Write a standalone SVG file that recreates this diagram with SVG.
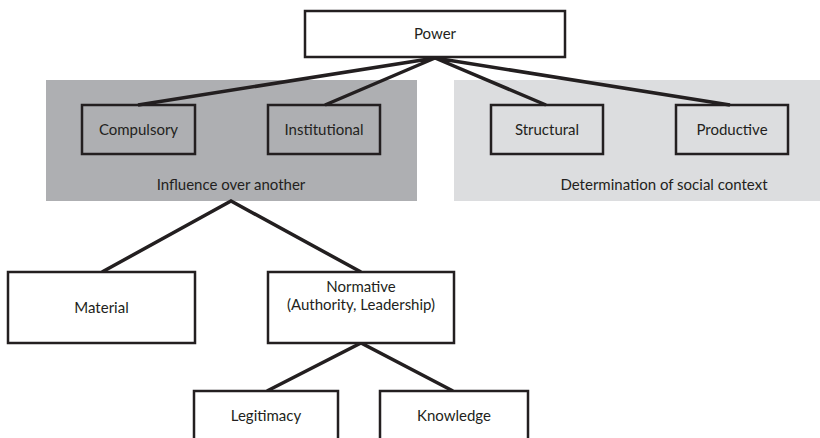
<svg xmlns="http://www.w3.org/2000/svg" width="820" height="438" viewBox="0 0 820 438">
<style>
.box{fill:#fff;stroke:#231f20;stroke-width:2.5}
.gbox{fill:none;stroke:#231f20;stroke-width:2.5}
.t{font-family:Lato,"Open Sans","Liberation Sans",sans-serif;font-size:15px;fill:#231f20;text-anchor:middle}
.c{stroke:#231f20;stroke-width:3.5;fill:none;stroke-linejoin:miter}
</style>
<rect width="820" height="438" fill="#fff"/>
<g id="panel-influence">
<rect x="46" y="80" width="371" height="121" fill="#aeafb2"/>
<text class="t" x="231" y="190">Influence over another</text>
</g>
<g id="panel-social">
<rect x="454" y="80" width="366" height="121" fill="#dcdddf"/>
<text class="t" x="664" y="190">Determination of social context</text>
</g>
<g id="connectors">
<path class="c" d="M138,105 L435,58 L325,105 M546,105 L435,58 L730,105"/>
<path class="c" d="M102,272 L231,201 L361,272"/>
<path class="c" d="M267,391 L361,343 L453,391"/>
</g>
<g id="power"><rect class="box" x="305" y="11" width="260" height="46"/><text class="t" x="435" y="39">Power</text></g>
<g id="compulsory"><rect class="gbox" x="82" y="105" width="113" height="49"/><text class="t" x="138.5" y="135">Compulsory</text></g>
<g id="institutional"><rect class="gbox" x="268" y="105" width="112" height="49"/><text class="t" x="324" y="135">Institutional</text></g>
<g id="structural"><rect class="gbox" x="491" y="105" width="112" height="49"/><text class="t" x="547" y="135">Structural</text></g>
<g id="productive"><rect class="gbox" x="676" y="105" width="112" height="49"/><text class="t" x="732" y="135">Productive</text></g>
<g id="material"><rect class="box" x="8" y="272" width="187" height="71"/><text class="t" x="101.5" y="313">Material</text></g>
<g id="normative"><rect class="box" x="268" y="272" width="186" height="71"/><text class="t" x="361" y="292">Normative</text><text class="t" x="361" y="310">(Authority, Leadership)</text></g>
<g id="legitimacy"><rect class="box" x="194" y="391" width="144" height="52"/><text class="t" x="266" y="421">Legitimacy</text></g>
<g id="knowledge"><rect class="box" x="380" y="391" width="148" height="52"/><text class="t" x="454" y="421">Knowledge</text></g>
</svg>
